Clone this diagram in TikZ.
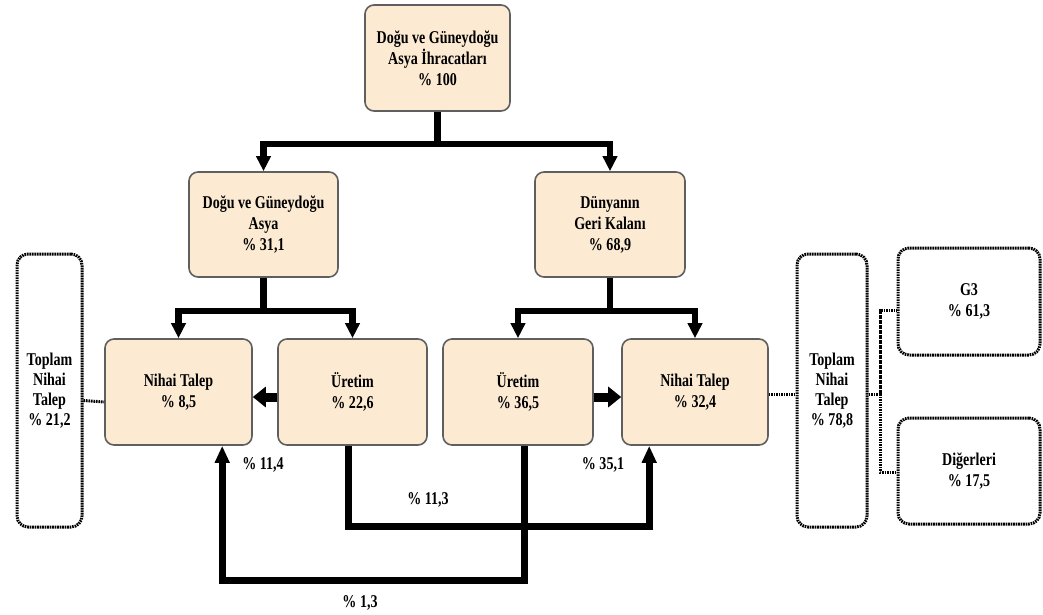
\documentclass[tikz,border=0pt]{standalone}
\usepackage{fontspec}
\setmainfont{Liberation Serif}[FakeStretch=0.78]
\usetikzlibrary{arrows.meta,calc}
\definecolor{boxfill}{RGB}{252,235,210}
\definecolor{boxline}{RGB}{95,95,95}
\begin{document}
\begin{tikzpicture}[x=1pt,y=-1pt,
  txt/.style={font=\fontsize{18}{21}\selectfont\bfseries,align=center},
  box/.style={txt,draw=boxline,line width=1.6pt,fill=boxfill,rounded corners=9pt,inner sep=0pt,minimum width=147pt,minimum height=106pt},
  dbox/.style={txt,draw=black,line width=3pt,dash pattern=on 1.6pt off 0.9pt,fill=white,rounded corners=11pt,inner sep=0pt},
  tree/.style={line width=6.5pt,line join=miter,-{Triangle[width=14pt,length=15pt]}},
  flow/.style={line width=7pt,line join=miter,-{Triangle[width=14pt,length=17pt]}},
  fat/.style={line width=9pt,-{Triangle[width=20pt,length=13pt]}},
  dotline/.style={line width=3pt,dash pattern=on 1.6pt off 0.9pt},
  lbl/.style={txt,inner sep=0pt}]
\useasboundingbox (0,0) rectangle (1043,615);

% main boxes
\node[box,minimum width=145pt] (top) at (437.5,58) {Doğu ve Güneydoğu\\Asya İhracatları\\\% 100};
\node[box,minimum width=149pt,minimum height=105pt] (dsa) at (263.5,224.5) {Doğu ve Güneydoğu\\Asya\\\% 31,1};
\node[box,minimum width=150pt,minimum height=105pt] (dgk) at (610,224.5) {Dünyanın\\Geri Kalanı\\\% 68,9};

\node[box] (nt1) at (178.5,392) {Nihai Talep\\\% 8,5};
\node[box,minimum width=149pt] (ur1) at (352.5,392) {Üretim\\\% 22,6};
\node[box,minimum width=150pt] (ur2) at (518,392) {Üretim\\\% 36,5};
\node[box,minimum width=146pt] (nt2) at (695,392) {Nihai Talep\\\% 32,4};

% dotted boxes
\node[dbox,minimum width=65pt,minimum height=273pt,font=\fontsize{18}{20}\selectfont\bfseries] (tl) at (49.5,390.5) {Toplam\\Nihai\\Talep\\\% 21,2};
\node[dbox,minimum width=70pt,minimum height=273pt,font=\fontsize{18}{20}\selectfont\bfseries] (tr) at (832,390.5) {Toplam\\Nihai\\Talep\\\% 78,8};
\node[dbox,minimum width=142pt,minimum height=107pt] (g3) at (969,301.5) {G3\\\% 61,3};
\node[dbox,minimum width=142pt,minimum height=106pt] (dig) at (969,471) {Diğerleri\\\% 17,5};

% tree connectors
\draw[tree] (top.south) -- ++(0,32) -| (dsa.north);
\draw[tree] (top.south) -- ++(0,32) -| (dgk.north);
\draw[tree] (dsa.south) -- ++(0,33) -| (nt1.north);
\draw[tree] (dsa.south) -- ++(0,33) -| (ur1.north);
\draw[tree] (dgk.south) -- ++(0,33) -| (ur2.north);
\draw[tree] (dgk.south) -- ++(0,33) -| (nt2.north);

% horizontal flows
\draw[fat] ($(ur1.west)+(0,5)$) -- ($(nt1.east)+(0,5)$);
\draw[fat] ($(ur2.east)+(0,5)$) -- ($(nt2.west)+(0,5)$);

% lower flows
\draw[flow] ($(ur1.south)+(-4,0)$) -- ++(0,81) -| ($(nt2.south west)+(28,0)$);
\draw[flow] ($(ur2.south)+(6,0)$) -- ++(0,135) -| ($(nt1.south west)+(118,0)$);

% dotted connectors
\draw[dotline] ($(tl.east)+(0,10)$) -- ($(nt1.west)+(0,10)$);
\draw[dotline] ($(nt2.east)+(0,2)$) -- ($(tr.west)+(0,3.5)$);
\coordinate (br) at (880,394);
\draw[dotline] ($(tr.east)+(0,3.5)$) -- (br);
\draw[dotline] (br) |- ($(g3.west)+(0,8.5)$);
\draw[dotline] (br) |- ($(dig.west)+(0,1)$);

% labels
\node[lbl] (l1) at (263,465) {\% 11,4};
\node[lbl] (l2) at (428,500) {\% 11,3};
\node[lbl] (l3) at (360,603) {\% 1,3};
\node[lbl] (l4) at (603,465) {\% 35,1};
\end{tikzpicture}
\end{document}
